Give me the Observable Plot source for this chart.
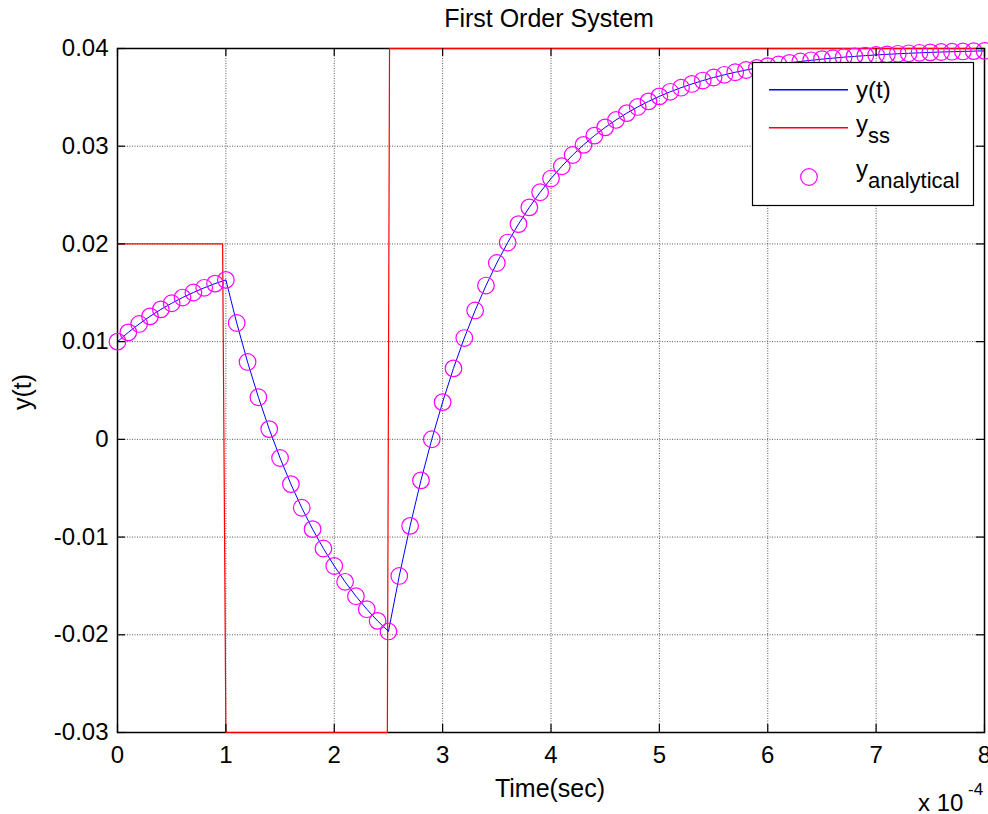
<!DOCTYPE html>
<html>
<head>
<meta charset="utf-8">
<script src="https://cdn.jsdelivr.net/npm/d3@7"></script>
<script src="https://cdn.jsdelivr.net/npm/@observablehq/plot@0.6"></script>
<style>
  html, body { margin: 0; padding: 0; background: #fff; }
  svg { display: block; }
</style>
</head>
<body>
<div id="chart"></div>
<script>
// Time in units of 10^-4 s (axis multiplier "x 10^-4")
const time = [
  0.0,0.1,0.2,0.3,0.4,0.5,0.6,0.7,0.8,0.9,
  1.0,1.1,1.2,1.3,1.4,1.5,1.6,1.7,1.8,1.9,
  2.0,2.1,2.2,2.3,2.4,2.5,2.6,2.7,2.8,2.9,
  3.0,3.1,3.2,3.3,3.4,3.5,3.6,3.7,3.8,3.9,
  4.0,4.1,4.2,4.3,4.4,4.5,4.6,4.7,4.8,4.9,
  5.0,5.1,5.2,5.3,5.4,5.5,5.6,5.7,5.8,5.9,
  6.0,6.1,6.2,6.3,6.4,6.5,6.6,6.7,6.8,6.9,
  7.0,7.1,7.2,7.3,7.4,7.5,7.6,7.7,7.8,7.9,
  8.0
];
// y(t) simulated response
const yT = [
  0.01000,0.01095,0.01181,0.01259,0.01330,0.01393,0.01451,0.01503,0.01551,0.01594,
  0.01632,0.01191,0.00792,0.00431,0.00105,-0.00191,-0.00458,-0.00700,-0.00919,-0.01117,
  -0.01296,-0.01458,-0.01605,-0.01738,-0.01858,-0.01966,-0.01398,-0.00885,-0.00420,0.00001,
  0.00381,0.00726,0.01037,0.01319,0.01574,0.01805,0.02014,0.02203,0.02374,0.02529,
  0.02669,0.02795,0.02910,0.03014,0.03108,0.03193,0.03269,0.03339,0.03402,0.03459,
  0.03510,0.03557,0.03599,0.03637,0.03672,0.03703,0.03731,0.03757,0.03780,0.03801,
  0.03820,0.03837,0.03853,0.03867,0.03879,0.03891,0.03901,0.03911,0.03919,0.03927,
  0.03934,0.03940,0.03946,0.03951,0.03956,0.03960,0.03964,0.03967,0.03970,0.03973,
  0.03976
];
// y analytical (circles)
const yAnalytical = [
  0.01000,0.01095,0.01181,0.01259,0.01330,0.01393,0.01451,0.01503,0.01551,0.01594,
  0.01632,0.01191,0.00792,0.00431,0.00105,-0.00191,-0.00458,-0.00700,-0.00919,-0.01117,
  -0.01296,-0.01458,-0.01605,-0.01738,-0.01858,-0.01966,-0.01398,-0.00885,-0.00420,0.00001,
  0.00381,0.00726,0.01037,0.01319,0.01574,0.01805,0.02014,0.02203,0.02374,0.02529,
  0.02669,0.02795,0.02910,0.03014,0.03108,0.03193,0.03269,0.03339,0.03402,0.03459,
  0.03510,0.03557,0.03599,0.03637,0.03672,0.03703,0.03731,0.03757,0.03780,0.03801,
  0.03820,0.03837,0.03853,0.03867,0.03879,0.03891,0.03901,0.03911,0.03919,0.03927,
  0.03934,0.03940,0.03946,0.03951,0.03956,0.03960,0.03964,0.03967,0.03970,0.03973,
  0.03976
];
// steady-state input y_ss
const tSS = [0, 0.97, 1.0, 2.49, 2.51, 8.0];
const ySS = [0.02, 0.02, -0.03, -0.03, 0.04, 0.04];

const xTicks = [0,1,2,3,4,5,6,7,8];
const yTicks = [-0.03,-0.02,-0.01,0,0.01,0.02,0.03,0.04];

const titleText = "First Order System";
const xLabel = "Time(sec)";
const yLabel = "y(t)";

const FONT = "'Liberation Sans', Arial, Helvetica, sans-serif";

const respData = time.map((t, i) => ({t, y: yT[i]}));
const anaData = time.map((t, i) => ({t, y: yAnalytical[i]}));
const ssData = tSS.map((t, i) => ({t, y: ySS[i]}));

const W = 988, H = 814;
const mL = 117, mR = 4, mT = 48, mB = 82;
const innerH = H - mT - mB;
const innerW = W - mL - mR;
const TK = 8;

const fmtY = d => d === 0 ? "0" : d.toFixed(2).replace("\u2212", "-");

const svg = Plot.plot({
  width: W,
  height: H,
  marginLeft: mL,
  marginRight: mR,
  marginTop: mT,
  marginBottom: mB,
  style: {fontFamily: FONT, fontSize: "24px", color: "#000", background: "#fff"},
  x: {domain: [0, 8], ticks: xTicks},
  y: {domain: [-0.03, 0.04], ticks: yTicks},
  marks: [
    Plot.gridX(xTicks, {stroke: "#555", strokeOpacity: 1, strokeWidth: 1, strokeDasharray: "1,1.5"}),
    Plot.gridY(yTicks, {stroke: "#555", strokeOpacity: 1, strokeWidth: 1, strokeDasharray: "1,1.5"}),
    Plot.frame({stroke: "#000", strokeWidth: 1.5}),
    Plot.line(ssData, {x: "t", y: "y", stroke: "#ff0000", strokeWidth: 1.2}),
    Plot.line(respData, {x: "t", y: "y", stroke: "#0000ff", strokeWidth: 1}),
    Plot.dot(anaData, {x: "t", y: "y", r: 8.3, stroke: "#ff00ff", strokeWidth: 1.2, fill: "none"}),
    // inward ticks, bottom & top
    Plot.tickX(xTicks, {x: d => d, insetTop: innerH - TK, stroke: "#000", strokeWidth: 1.2}),
    Plot.tickX(xTicks, {x: d => d, insetBottom: innerH - TK, stroke: "#000", strokeWidth: 1.2}),
    // inward ticks, left & right
    Plot.tickY(yTicks, {y: d => d, insetRight: innerW - TK, stroke: "#000", strokeWidth: 1.2}),
    Plot.tickY(yTicks, {y: d => d, insetLeft: innerW - TK, stroke: "#000", strokeWidth: 1.2}),
    Plot.axisX(xTicks, {anchor: "bottom", tickSize: 0, tickPadding: 13, label: null, fontSize: 24, tickFormat: d => String(d)}),
    Plot.axisY(yTicks, {anchor: "left", tickSize: 0, tickPadding: 9, label: null, fontSize: 24, tickFormat: fmtY})
  ]
});

const g = d3.select(svg).append("g")
  .attr("font-family", FONT)
  .attr("fill", "#000");

// Title
g.append("text").attr("x", 549).attr("y", 27).attr("text-anchor", "middle")
  .attr("font-size", 25).text(titleText);
// x label
g.append("text").attr("x", 550).attr("y", 797).attr("text-anchor", "middle")
  .attr("font-size", 25).text(xLabel);
// y label
g.append("text").attr("transform", "translate(31,392) rotate(-90)").attr("text-anchor", "middle")
  .attr("font-size", 25).text(yLabel);
// multiplier
g.append("text").attr("x", 918).attr("y", 811).attr("text-anchor", "start").attr("font-size", 24).text("x 10");
g.append("text").attr("x", 968).attr("y", 795).attr("text-anchor", "start").attr("font-size", 17).text("-4");

// Legend
const lg = g.append("g").attr("text-anchor", "start");
lg.append("rect").attr("x", 752.5).attr("y", 62.5).attr("width", 221).attr("height", 143)
  .attr("fill", "#fff").attr("stroke", "#000").attr("stroke-width", 1.2);
lg.append("rect").attr("x", 769).attr("y", 89).attr("width", 79).attr("height", 1.5)
  .attr("fill", "#0000ff").attr("stroke", "none");
lg.append("rect").attr("x", 769).attr("y", 127).attr("width", 79).attr("height", 1.5)
  .attr("fill", "#ff0000").attr("stroke", "none");
lg.append("circle").attr("cx", 809).attr("cy", 177).attr("r", 8.3)
  .attr("fill", "none").attr("stroke", "#ff00ff").attr("stroke-width", 1.2);

lg.append("text").attr("x", 856).attr("y", 98).attr("font-size", 24).text("y(t)");
const t2 = lg.append("text").attr("x", 856).attr("y", 132).attr("font-size", 24);
t2.append("tspan").text("y");
t2.append("tspan").attr("dy", 11).attr("font-size", 22).text("ss");
const t3 = lg.append("text").attr("x", 856).attr("y", 177).attr("font-size", 24);
t3.append("tspan").text("y");
t3.append("tspan").attr("dy", 11).attr("font-size", 22).text("analytical");

document.getElementById("chart").appendChild(svg);
</script>
</body>
</html>
